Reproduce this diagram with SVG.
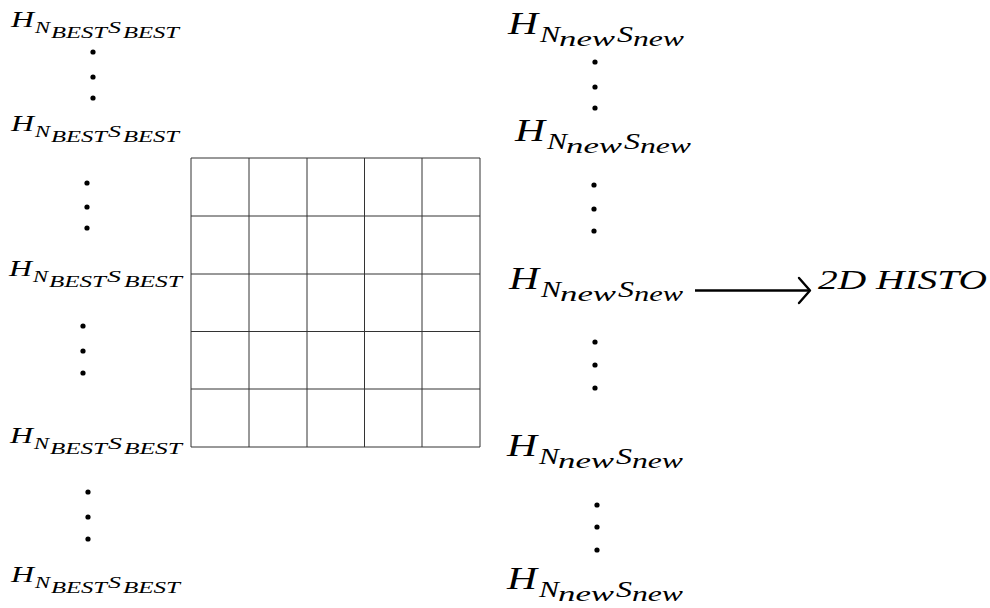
<svg xmlns="http://www.w3.org/2000/svg" width="990" height="608" viewBox="0 0 990 608">
<style>
text{font-family:"Liberation Serif","Times New Roman",serif;font-style:italic;fill:#000}
.h1{font-size:23px}.s1{font-size:17px}.ss1{font-size:16px}
.h2{font-size:31px}.s2{font-size:23px}.ss2{font-size:22px}
.grid line{stroke:#333;stroke-width:1}
.dot{fill:#000}
</style>
<rect width="990" height="608" fill="#fff"/>
<g id="grid" class="grid">
<line x1="191" y1="158" x2="480" y2="158"/><line x1="191" y1="216" x2="480" y2="216"/><line x1="191" y1="274" x2="480" y2="274"/><line x1="191" y1="331.5" x2="480" y2="331.5"/><line x1="191" y1="389" x2="480" y2="389"/><line x1="191" y1="447" x2="480" y2="447"/>
<line x1="191" y1="158" x2="191" y2="447"/><line x1="249" y1="158" x2="249" y2="447"/><line x1="307" y1="158" x2="307" y2="447"/><line x1="364.5" y1="158" x2="364.5" y2="447"/><line x1="422" y1="158" x2="422" y2="447"/><line x1="480" y1="158" x2="480" y2="447"/>
</g>
<g id="left-labels">
<g id="L1"><text><tspan class="h1" x="11" y="27" textLength="23" lengthAdjust="spacingAndGlyphs">H</tspan><tspan class="s1" x="35" y="33" textLength="15" lengthAdjust="spacingAndGlyphs">N</tspan><tspan class="ss1" x="51" y="38" textLength="56" lengthAdjust="spacingAndGlyphs">BEST</tspan><tspan class="s1" x="108" y="33" textLength="13" lengthAdjust="spacingAndGlyphs">S</tspan><tspan class="ss1" x="123" y="38" textLength="56" lengthAdjust="spacingAndGlyphs">BEST</tspan></text></g>
<g id="L2"><text><tspan class="h1" x="11" y="131" textLength="23" lengthAdjust="spacingAndGlyphs">H</tspan><tspan class="s1" x="35" y="137" textLength="15" lengthAdjust="spacingAndGlyphs">N</tspan><tspan class="ss1" x="51" y="142" textLength="56" lengthAdjust="spacingAndGlyphs">BEST</tspan><tspan class="s1" x="108" y="137" textLength="13" lengthAdjust="spacingAndGlyphs">S</tspan><tspan class="ss1" x="123" y="142" textLength="56" lengthAdjust="spacingAndGlyphs">BEST</tspan></text></g>
<g id="L3"><text><tspan class="h1" x="9" y="276" textLength="23" lengthAdjust="spacingAndGlyphs">H</tspan><tspan class="s1" x="33" y="282" textLength="15" lengthAdjust="spacingAndGlyphs">N</tspan><tspan class="ss1" x="49" y="287" textLength="57" lengthAdjust="spacingAndGlyphs">BEST</tspan><tspan class="s1" x="107" y="282" textLength="14" lengthAdjust="spacingAndGlyphs">S</tspan><tspan class="ss1" x="124" y="287" textLength="58" lengthAdjust="spacingAndGlyphs">BEST</tspan></text></g>
<g id="L4"><text><tspan class="h1" x="10" y="443" textLength="23" lengthAdjust="spacingAndGlyphs">H</tspan><tspan class="s1" x="34" y="449" textLength="15" lengthAdjust="spacingAndGlyphs">N</tspan><tspan class="ss1" x="50" y="454" textLength="57" lengthAdjust="spacingAndGlyphs">BEST</tspan><tspan class="s1" x="108" y="449" textLength="14" lengthAdjust="spacingAndGlyphs">S</tspan><tspan class="ss1" x="124" y="454" textLength="58" lengthAdjust="spacingAndGlyphs">BEST</tspan></text></g>
<g id="L5"><text><tspan class="h1" x="11" y="582" textLength="23" lengthAdjust="spacingAndGlyphs">H</tspan><tspan class="s1" x="35" y="588" textLength="15" lengthAdjust="spacingAndGlyphs">N</tspan><tspan class="ss1" x="51" y="593" textLength="56" lengthAdjust="spacingAndGlyphs">BEST</tspan><tspan class="s1" x="108" y="588" textLength="13" lengthAdjust="spacingAndGlyphs">S</tspan><tspan class="ss1" x="123" y="593" textLength="57" lengthAdjust="spacingAndGlyphs">BEST</tspan></text></g>
</g>
<g id="left-dots" class="dot">
<circle cx="93" cy="52" r="2.6"/><circle cx="93" cy="77" r="2.6"/><circle cx="93" cy="98" r="2.6"/>
<circle cx="87" cy="183" r="2.6"/><circle cx="87" cy="207" r="2.6"/><circle cx="87" cy="228" r="2.6"/>
<circle cx="83" cy="326" r="2.6"/><circle cx="83" cy="351" r="2.6"/><circle cx="83" cy="373" r="2.6"/>
<circle cx="88" cy="492" r="2.6"/><circle cx="88" cy="517" r="2.6"/><circle cx="88" cy="539" r="2.6"/>
</g>
<g id="right-labels">
<g id="R1"><text><tspan class="h2" x="508" y="34" textLength="30" lengthAdjust="spacingAndGlyphs">H</tspan><tspan class="s2" x="540" y="42" textLength="20" lengthAdjust="spacingAndGlyphs">N</tspan><tspan class="ss2" x="559" y="46" textLength="56" lengthAdjust="spacingAndGlyphs">new</tspan><tspan class="s2" x="617" y="42" textLength="16" lengthAdjust="spacingAndGlyphs">S</tspan><tspan class="ss2" x="633" y="46" textLength="51" lengthAdjust="spacingAndGlyphs">new</tspan></text></g>
<g id="R2"><text><tspan class="h2" x="515" y="141" textLength="30" lengthAdjust="spacingAndGlyphs">H</tspan><tspan class="s2" x="547" y="149" textLength="20" lengthAdjust="spacingAndGlyphs">N</tspan><tspan class="ss2" x="566" y="153" textLength="56" lengthAdjust="spacingAndGlyphs">new</tspan><tspan class="s2" x="624" y="149" textLength="16" lengthAdjust="spacingAndGlyphs">S</tspan><tspan class="ss2" x="640" y="153" textLength="51" lengthAdjust="spacingAndGlyphs">new</tspan></text></g>
<g id="R3"><text><tspan class="h2" x="509" y="289" textLength="30" lengthAdjust="spacingAndGlyphs">H</tspan><tspan class="s2" x="541" y="297" textLength="20" lengthAdjust="spacingAndGlyphs">N</tspan><tspan class="ss2" x="560" y="301" textLength="56" lengthAdjust="spacingAndGlyphs">new</tspan><tspan class="s2" x="618" y="297" textLength="16" lengthAdjust="spacingAndGlyphs">S</tspan><tspan class="ss2" x="634" y="301" textLength="49" lengthAdjust="spacingAndGlyphs">new</tspan></text></g>
<g id="R4"><text><tspan class="h2" x="507" y="456" textLength="30" lengthAdjust="spacingAndGlyphs">H</tspan><tspan class="s2" x="539" y="464" textLength="20" lengthAdjust="spacingAndGlyphs">N</tspan><tspan class="ss2" x="558" y="468" textLength="56" lengthAdjust="spacingAndGlyphs">new</tspan><tspan class="s2" x="616" y="464" textLength="16" lengthAdjust="spacingAndGlyphs">S</tspan><tspan class="ss2" x="632" y="468" textLength="51" lengthAdjust="spacingAndGlyphs">new</tspan></text></g>
<g id="R5"><text><tspan class="h2" x="507" y="589" textLength="30" lengthAdjust="spacingAndGlyphs">H</tspan><tspan class="s2" x="539" y="597" textLength="20" lengthAdjust="spacingAndGlyphs">N</tspan><tspan class="ss2" x="558" y="601" textLength="56" lengthAdjust="spacingAndGlyphs">new</tspan><tspan class="s2" x="616" y="597" textLength="16" lengthAdjust="spacingAndGlyphs">S</tspan><tspan class="ss2" x="632" y="601" textLength="51" lengthAdjust="spacingAndGlyphs">new</tspan></text></g>
</g>
<g id="right-dots" class="dot">
<circle cx="595" cy="62" r="2.6"/><circle cx="595" cy="87" r="2.6"/><circle cx="595" cy="108" r="2.6"/>
<circle cx="594" cy="185" r="2.6"/><circle cx="594" cy="209" r="2.6"/><circle cx="594" cy="231" r="2.6"/>
<circle cx="595" cy="342" r="2.6"/><circle cx="595" cy="365" r="2.6"/><circle cx="595" cy="388" r="2.6"/>
<circle cx="597" cy="505" r="2.6"/><circle cx="597" cy="527" r="2.6"/><circle cx="597" cy="550" r="2.6"/>
</g>
<g id="connectors">
<line x1="695" y1="290.5" x2="809" y2="290.5" stroke="#000" stroke-width="2.4"/>
<polyline points="799,278 810,290.5 799,303" fill="none" stroke="#000" stroke-width="2.4" stroke-linecap="round" stroke-linejoin="round"/>
</g>
<g id="histo"><text x="818" y="289" font-size="27" textLength="169" lengthAdjust="spacingAndGlyphs">2D HISTO</text></g>
</svg>
